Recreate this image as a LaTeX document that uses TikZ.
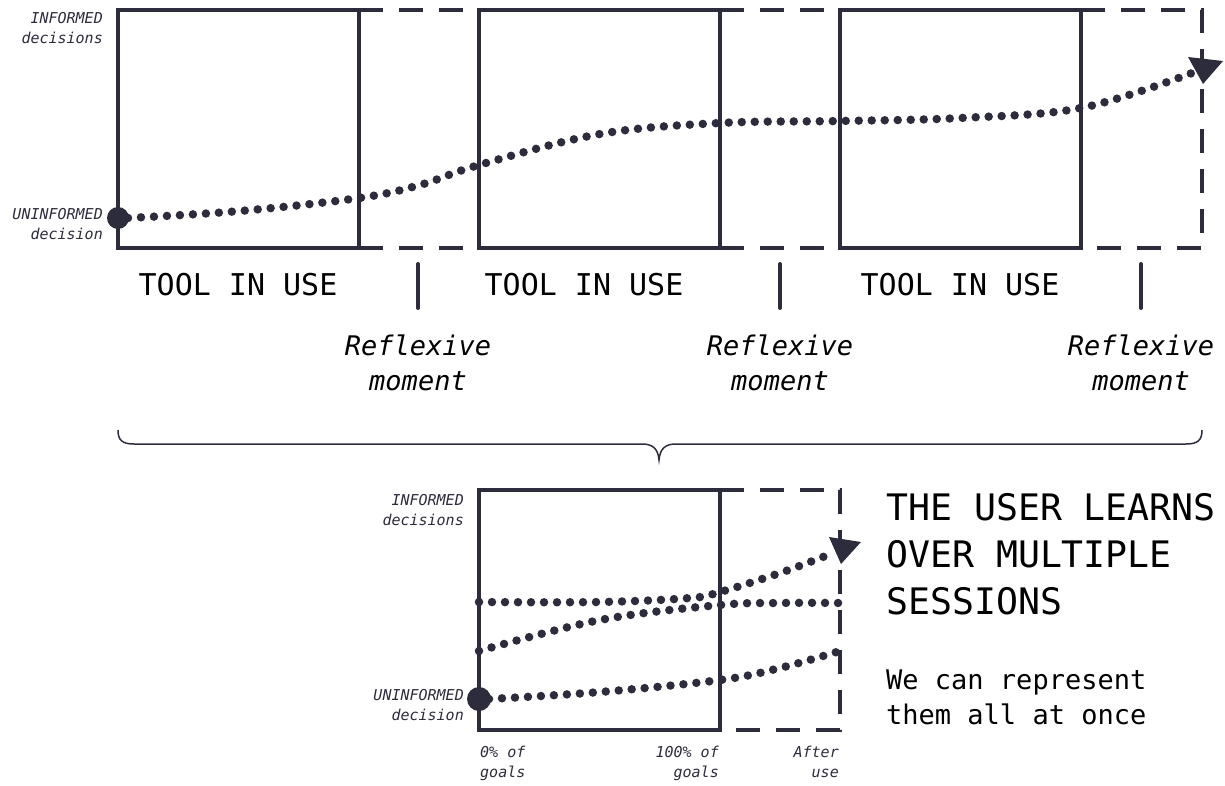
\documentclass[tikz,border=0pt]{standalone}
\usepackage{fontspec}
\setmonofont{DejaVu Sans Mono}
\setmainfont{DejaVu Sans Mono}
\definecolor{ink}{HTML}{2D2C3C}
\begin{document}
\begin{tikzpicture}[x=1pt,y=-1pt,
  solidline/.style={draw=ink,line width=4pt,line cap=round},
  dashline/.style={draw=ink,line width=4pt,dash pattern=on 24pt off 16pt},
  dotline/.style={draw=ink,line width=8.5pt,line cap=round,dash pattern=on 0pt off 13pt},
  smalllab/.style={font=\fontsize{15}{20.5}\selectfont\itshape,text=ink,align=right,inner sep=0pt},
  toollab/.style={font=\fontsize{30}{36}\selectfont,text=black,inner sep=0pt},
  reflab/.style={font=\fontsize{27}{35}\selectfont\itshape,text=black,align=center,inner sep=0pt},
  ticks/.style={draw=ink,line width=4pt,line cap=round},
  axlab/.style={font=\fontsize{15}{20}\selectfont\itshape,text=ink,inner sep=0pt}]
\useasboundingbox (0,0) rectangle (1225,786);
% ---------- top row ----------
\foreach \l/\r/\n in {118/359/A,479/720/B,840/1081/C}{
  \draw[solidline] (\l,10) rectangle (\r,248);
}
\draw[dashline] (359,10) -- (479,10);
\draw[dashline] (359,248) -- (479,248);
\draw[dashline] (720,10) -- (840,10);
\draw[dashline] (720,248) -- (840,248);
\draw[dashline] (1081,10) -- (1202,10) -- (1202,248) -- (1081,248);
% curve
\draw[dotline] plot[smooth,tension=0.6] coordinates {(128,218) (240,211) (359,198) (420,185) (479,165) (600,134) (720,123) (840,121) (960,118) (1081,108) (1192,73)};
\fill[ink] (118,218) circle (11);
\fill[ink] (1188,57) -- (1223,61) -- (1203,84) -- cycle;
\node[smalllab,anchor=east] (inf1) at (103,28) {INFORMED\\decisions};
\node[smalllab,anchor=east] (uninf1) at (103,224) {UNINFORMED\\decision};
% labels
\node[toollab] (t1) at (238,285) {TOOL IN USE};
\node[toollab] (t2) at (584,285) {TOOL IN USE};
\node[toollab] (t3) at (960,285) {TOOL IN USE};
\draw[ticks] (418,264) -- (418,308);
\draw[ticks] (780,264) -- (780,308);
\draw[ticks] (1141,264) -- (1141,308);
\node[reflab] (r1) at (418,363) {Reflexive\\moment};
\node[reflab] (r2) at (780,363) {Reflexive\\moment};
\node[reflab] (r3) at (1141,363) {Reflexive\\moment};
% brace
\draw[ink,line width=1.5pt] (118,430) .. controls (118,440) and (122,444) .. (134,444)
  -- (642,444) .. controls (652,444) and (658,448) .. (659,460)
  .. controls (660,448) and (666,444) .. (676,444)
  -- (1186,444) .. controls (1198,444) and (1202,440) .. (1202,430);
% ---------- bottom panel ----------
\draw[solidline] (479,490) rectangle (720,730);
\draw[dashline] (720,490) -- (840,490) -- (840,730) -- (720,730);
\draw[dotline] plot[smooth,tension=0.6] coordinates {(479,602) (600,602) (690,598) (720,592) (780,573) (828,555)};
\draw[dotline] plot[smooth,tension=0.6] coordinates {(479,651) (600,620) (720,605) (780,603) (840,603)};
\draw[dotline] plot[smooth,tension=0.6] coordinates {(489,699) (600,692) (720,680) (780,668) (840,651)};
\fill[ink] (479,699) circle (12);
\fill[ink] (829,537) -- (861,542) -- (841,564) -- cycle;
\node[smalllab,anchor=east] (inf2) at (464,510) {INFORMED\\decisions};
\node[smalllab,anchor=east] (uninf2) at (464,705) {UNINFORMED\\decision};
\node[axlab,anchor=north west,align=left] (g0) at (480,746) {0\% of\\goals};
\node[axlab,anchor=north east,align=right] (g100) at (719,746) {100\% of\\goals};
\node[axlab,anchor=north east,align=right] (after) at (839,746) {After\\use};
\node[font=\fontsize{36.5}{47}\selectfont,text=black,anchor=north west,align=left,inner sep=0pt] (title) at (886,493) {THE USER LEARNS\\OVER MULTIPLE\\SESSIONS};
\node[font=\fontsize{27}{35}\selectfont,text=black,anchor=north west,align=left,inner sep=0pt] (sub) at (886,670) {We can represent\\them all at once};
\end{tikzpicture}
\end{document}
